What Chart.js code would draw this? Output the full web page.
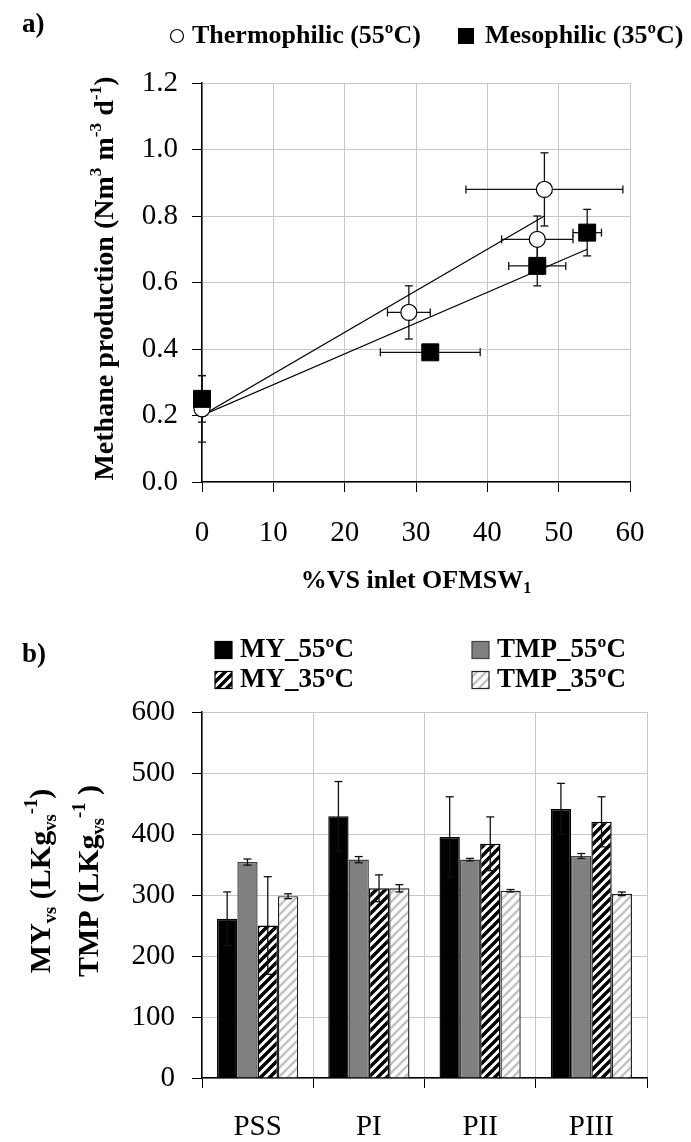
<!DOCTYPE html>
<html>
<head>
<meta charset="utf-8">
<script src="https://cdn.jsdelivr.net/npm/chart.js@4.4.1/dist/chart.umd.min.js"></script>
<style>
  html, body { margin: 0; padding: 0; background: #fff; }
  #wrap { position: relative; width: 691px; height: 1142px; }
  canvas { position: absolute; left: 0; }
  #cA { top: 0; }
  #cB { top: 600px; }
</style>
</head>
<body>
<div id="wrap">
  <canvas id="cA" width="691" height="600"></canvas>
  <canvas id="cB" width="691" height="542"></canvas>
</div>
<script>
// Two-panel figure: (a) methane production vs %VS inlet, (b) MY / TMP bars per phase.
const SERIF = "'Liberation Serif', 'Times New Roman', serif";
Chart.defaults.color = "#000";
Chart.defaults.font.family = SERIF;
const GRID = "#c8c8c8";
const $ = id => document.getElementById(id);

// ---- panel a data ----
const thermoX    = [0, 29, 47, 48];
const thermoY    = [0.22, 0.51, 0.73, 0.88];
const thermoXErr = [0, 3, 5, 11];
const thermoYErr = [0.10, 0.08, 0.07, 0.11];
const mesoX      = [0, 32, 47, 54];
const mesoY      = [0.25, 0.39, 0.65, 0.75];
const mesoXErr   = [0, 7, 4, 2];
const mesoYErr   = [0.07, 0, 0.06, 0.07];
const thermoFitX = [0, 48],  thermoFitY = [0.20, 0.80];
const mesoFitX   = [0, 54],  mesoFitY   = [0.20, 0.70];

// ---- panel b data ----
const phases   = ["PSS", "PI", "PII", "PIII"];
const my55     = [261, 429, 395, 441];
const my55Err  = [44, 57, 66, 42];
const tmp55    = [354, 358, 358, 364];
const tmp55Err = [5, 5, 2, 4];
const my35     = [250, 311, 384, 420];
const my35Err  = [80, 22, 44, 41];
const tmp35    = [298, 311, 307, 302];
const tmp35Err = [4, 6, 2, 3];

const pts = (xs, ys) => xs.map((x, i) => ({x, y: ys[i]}));

// text with sub/superscripts, drawn left-to-right from x (or centred on x)
function rich(ctx, parts, x, y, size, align) {
  const f = s => `bold ${s}px ${SERIF}`;
  let w = 0;
  const m = parts.map(([t, k]) => {
    const s = k ? size * 0.62 : size;
    ctx.font = f(s);
    const tw = ctx.measureText(t).width; w += tw;
    return {t, k, s, tw};
  });
  let cx = align === "center" ? x - w / 2 : x;
  ctx.textAlign = "left"; ctx.textBaseline = "alphabetic"; ctx.fillStyle = "#000";
  m.forEach(p => {
    ctx.font = f(p.s);
    const dy = p.k === "sup" ? -size * 0.42 : p.k === "sub" ? size * 0.2 : 0;
    ctx.fillText(p.t, cx, y + dy);
    cx += p.tw;
  });
}
function label(ctx, t, x, y, size) {
  ctx.font = `bold ${size}px ${SERIF}`; ctx.fillStyle = "#000";
  ctx.textAlign = "left"; ctx.textBaseline = "middle";
  ctx.fillText(t, x, y);
}
function seg(ctx, x1, y1, x2, y2) { ctx.beginPath(); ctx.moveTo(x1, y1); ctx.lineTo(x2, y2); ctx.stroke(); }

function hatch(fg, lw, gap) {
  const c = document.createElement("canvas"); c.width = c.height = gap;
  const g = c.getContext("2d");
  g.fillStyle = "#fff"; g.fillRect(0, 0, gap, gap);
  g.strokeStyle = fg; g.lineWidth = lw;
  g.beginPath();
  for (let k = -1; k <= 1; k++) { g.moveTo(k * gap - 1, gap + 1); g.lineTo(k * gap + gap + 1, -1); }
  g.stroke();
  return g.createPattern(c, "repeat");
}

// ---------------- panel a ----------------
const xyErrors = {
  id: "xyErrors",
  beforeDatasetsDraw(chart) {
    const {ctx, scales: {x, y}} = chart;
    ctx.save(); ctx.strokeStyle = "#111"; ctx.lineWidth = 1.3;
    chart.data.datasets.forEach(ds => {
      if (!ds.errY) return;
      ds.data.forEach((p, i) => {
        const px = x.getPixelForValue(p.x), py = y.getPixelForValue(p.y);
        const ey = ds.errY[i], ex = ds.errX[i];
        if (ey) {
          const t = y.getPixelForValue(p.y + ey), b = y.getPixelForValue(p.y - ey);
          seg(ctx, px, t, px, b); seg(ctx, px - 4, t, px + 4, t); seg(ctx, px - 4, b, px + 4, b);
        }
        if (ex) {
          const l = x.getPixelForValue(p.x - ex), r = x.getPixelForValue(p.x + ex);
          seg(ctx, l, py, r, py); seg(ctx, l, py - 4, l, py + 4); seg(ctx, r, py - 4, r, py + 4);
        }
      });
    });
    ctx.restore();
  },
  afterDraw(chart) {
    const {ctx, chartArea: a} = chart;
    ctx.save();
    label(ctx, "a)", 22, 25, 27);
    // legend
    ctx.strokeStyle = "#000"; ctx.lineWidth = 1.2; ctx.fillStyle = "#fff";
    ctx.beginPath(); ctx.arc(177, 36, 6.5, 0, Math.PI * 2); ctx.fill(); ctx.stroke();
    label(ctx, chart.data.datasets[1].label, 192, 36, 26);
    ctx.fillStyle = "#000"; ctx.fillRect(458, 28, 16, 16);
    label(ctx, chart.data.datasets[0].label, 485, 36, 26);
    // x title
    rich(ctx, [["%VS inlet OFMSW"], ["1", "sub"]], (a.left + a.right) / 2, 588, 26, "center");
    // y title
    ctx.translate(113, (a.top + a.bottom) / 2 - 4); ctx.rotate(-Math.PI / 2);
    rich(ctx, [["Methane production (Nm"], ["3", "sup"], [" m"], ["-3", "sup"], [" d"], ["-1", "sup"], [")"]], 0, 0, 28, "center");
    ctx.restore();
  }
};

new Chart($("cA"), {
  type: "scatter",
  data: {datasets: [
    {label: "Mesophilic (35ºC)", data: pts(mesoX, mesoY), errX: mesoXErr, errY: mesoYErr,
     pointStyle: "rect", pointRadius: 12, backgroundColor: "#000", borderColor: "#000", borderWidth: 1, clip: false},
    {label: "Thermophilic (55ºC)", data: pts(thermoX, thermoY), errX: thermoXErr, errY: thermoYErr,
     pointStyle: "circle", pointRadius: 8, backgroundColor: "#fff", borderColor: "#000", borderWidth: 1.2, clip: false},
    {type: "line", label: "fit T", data: pts(thermoFitX, thermoFitY), borderColor: "#000", borderWidth: 1.2, pointRadius: 0, fill: false},
    {type: "line", label: "fit M", data: pts(mesoFitX, mesoFitY), borderColor: "#000", borderWidth: 1.2, pointRadius: 0, fill: false}
  ]},
  options: {
    responsive: false, animation: false, events: [],
    layout: {padding: {top: 83, right: 61, left: 0, bottom: 0}},
    plugins: {legend: {display: false}, tooltip: {enabled: false}},
    scales: {
      x: {type: "linear", min: 0, max: 60,
          ticks: {stepSize: 10, font: {size: 29}, padding: 24},
          grid: {color: GRID, tickColor: "#000", tickLength: 10},
          border: {color: "#000", width: 1.5},
          afterFit: s => { s.height = 118; }},
      y: {min: 0, max: 1.2,
          ticks: {stepSize: 0.2, font: {size: 29}, padding: 14, callback: v => Number(v).toFixed(1)},
          grid: {color: GRID, tickColor: "#000", tickLength: 10},
          border: {color: "#000", width: 1.5},
          afterFit: s => { s.width = 202; }}
    }
  },
  plugins: [xyErrors]
});

// ---------------- panel b ----------------
const barErrors = {
  id: "barErrors",
  afterDatasetsDraw(chart) {
    const {ctx, scales: {y}} = chart;
    ctx.save(); ctx.strokeStyle = "#111"; ctx.lineWidth = 1.3;
    chart.data.datasets.forEach((ds, i) => {
      chart.getDatasetMeta(i).data.forEach((el, j) => {
        const t = y.getPixelForValue(ds.data[j] + ds.err[j]), b = y.getPixelForValue(ds.data[j] - ds.err[j]);
        seg(ctx, el.x, t, el.x, b); seg(ctx, el.x - 4, t, el.x + 4, t); seg(ctx, el.x - 4, b, el.x + 4, b);
      });
    });
    ctx.restore();
  },
  afterDraw(chart) {
    const {ctx, chartArea: a} = chart;
    const ds = chart.data.datasets;
    ctx.save();
    label(ctx, "b)", 22, 55, 27);
    const slots = [[215, 50], [472, 50], [215, 80], [472, 80]]; // MY55, TMP55, MY35, TMP35
    ds.forEach((d, i) => {
      const [lx, ly] = slots[i];
      ctx.fillStyle = d.backgroundColor; ctx.fillRect(lx, ly - 8.5, 17, 17);
      ctx.strokeStyle = d.borderColor; ctx.lineWidth = 1.2; ctx.strokeRect(lx, ly - 8.5, 17, 17);
      label(ctx, d.label, lx + 25, ly, 27);
    });
    const cy = (a.top + a.bottom) / 2 - 14;
    ctx.save(); ctx.translate(50, cy); ctx.rotate(-Math.PI / 2);
    rich(ctx, [["MY"], ["vs", "sub"], [" (LKg"], ["vs", "sub"], ["-1", "sup"], [")"]], 0, 0, 30, "center");
    ctx.restore();
    ctx.translate(98, cy); ctx.rotate(-Math.PI / 2);
    rich(ctx, [["TMP (LKg"], ["vs", "sub"], ["-1", "sup"], [" )"]], 0, 0, 30, "center");
    ctx.restore();
  }
};

new Chart($("cB"), {
  type: "bar",
  data: {labels: phases, datasets: [
    {label: "MY_55ºC",  data: my55,  err: my55Err,  backgroundColor: "#000", borderColor: "#000"},
    {label: "TMP_55ºC", data: tmp55, err: tmp55Err, backgroundColor: "#808080", borderColor: "#404040"},
    {label: "MY_35ºC",  data: my35,  err: my35Err,  backgroundColor: hatch("#000", 3.4, 9), borderColor: "#000"},
    {label: "TMP_35ºC", data: tmp35, err: tmp35Err, backgroundColor: hatch("#c4c4c4", 2.6, 9), borderColor: "#222"}
  ]},
  options: {
    responsive: false, animation: false, events: [],
    layout: {padding: {top: 112, right: 44, left: 0, bottom: 0}},
    datasets: {bar: {categoryPercentage: 0.73, barPercentage: 1, borderWidth: 1.4}},
    plugins: {legend: {display: false}, tooltip: {enabled: false}},
    scales: {
      x: {ticks: {font: {size: 29}, padding: 22},
          grid: {offset: true, color: GRID, tickColor: "#000", tickLength: 10},
          border: {color: "#000", width: 1.5},
          afterFit: s => { s.height = 64; }},
      y: {min: 0, max: 600,
          ticks: {stepSize: 100, font: {size: 29}, padding: 17},
          grid: {color: GRID, tickColor: "#000", tickLength: 10},
          border: {color: "#000", width: 1.5},
          afterFit: s => { s.width = 202; }}
    }
  },
  plugins: [barErrors]
});
</script>
</body>
</html>
